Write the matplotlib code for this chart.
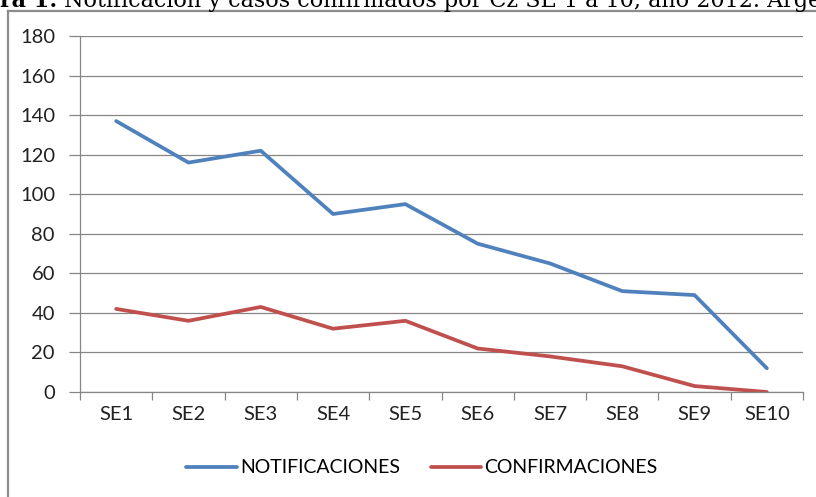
import matplotlib
matplotlib.use('Agg')
import matplotlib.pyplot as plt
from matplotlib.lines import Line2D
import numpy as np

semanas = ['SE1', 'SE2', 'SE3', 'SE4', 'SE5', 'SE6', 'SE7', 'SE8', 'SE9', 'SE10']
notificaciones = [137, 116, 122, 90, 95, 75, 65, 51, 49, 12]
confirmaciones = [42, 36, 43, 32, 36, 22, 18, 13, 3, 0]

azul = '#4F81BD'
rojo = '#C0504D'
gris = '#868686'

plt.rcParams['font.family'] = ['Lato', 'DejaVu Sans']

fig = plt.figure(figsize=(8.16, 4.97), dpi=100)
W, H = 816.0, 497.0

# titulo (cortado arriba, como en la imagen)
fig.text(0 / W, 1 - 7 / H, 'ra 1:', fontsize=16, fontweight='bold',
         family='DejaVu Serif', va='baseline', ha='left')
fig.text(64 / W, 1 - 7 / H,
         'Notificación y casos confirmados por Cz SE 1 a 10, año 2012. Argentina',
         fontsize=16, family='DejaVu Serif', va='baseline', ha='left')

# marco del grafico
fig.add_artist(Line2D([8 / W, 1.0], [1 - 11 / H, 1 - 11 / H], color='#8c8c8c', lw=1.6,
                      transform=fig.transFigure))
fig.add_artist(Line2D([8 / W, 8 / W], [0, 1 - 11 / H], color='#8c8c8c', lw=1.6,
                      transform=fig.transFigure))

ax = fig.add_axes([80 / W, 1 - 392 / H, (803 - 80) / W, (392 - 36) / H])
x = np.arange(len(semanas))
ax.plot(x, notificaciones, color=azul, lw=2.7, label='NOTIFICACIONES', solid_capstyle='round')
ax.plot(x, confirmaciones, color=rojo, lw=2.7, label='CONFIRMACIONES', solid_capstyle='round')

ax.set_xlim(-0.5, len(semanas) - 0.5)
ax.set_ylim(0, 180)
ax.set_yticks(np.arange(0, 181, 20))
ax.yaxis.grid(True, color=gris, lw=0.9)
ax.set_axisbelow(True)

ax.set_xticks(x)
ax.set_xticklabels(semanas)
ax.set_xticks(np.arange(-0.5, len(semanas), 1), minor=True)
ax.tick_params(axis='x', which='major', length=0, pad=10, labelsize=14.5, colors='#222222')
ax.tick_params(axis='x', which='minor', length=6, color=gris, width=0.9)
ax.tick_params(axis='y', length=8, color=gris, width=0.9, pad=10, labelsize=14.5,
               labelcolor='#222222')

for s in ['top', 'right']:
    ax.spines[s].set_visible(False)
for s in ['left', 'bottom']:
    ax.spines[s].set_color(gris)
    ax.spines[s].set_linewidth(0.9)

ax.legend(loc='center', bbox_to_anchor=(0.473, -0.213), ncol=2, frameon=False,
          fontsize=14, handlelength=2.6, handletextpad=0.15, columnspacing=1.6)

fig.savefig('out.png', dpi=100)
